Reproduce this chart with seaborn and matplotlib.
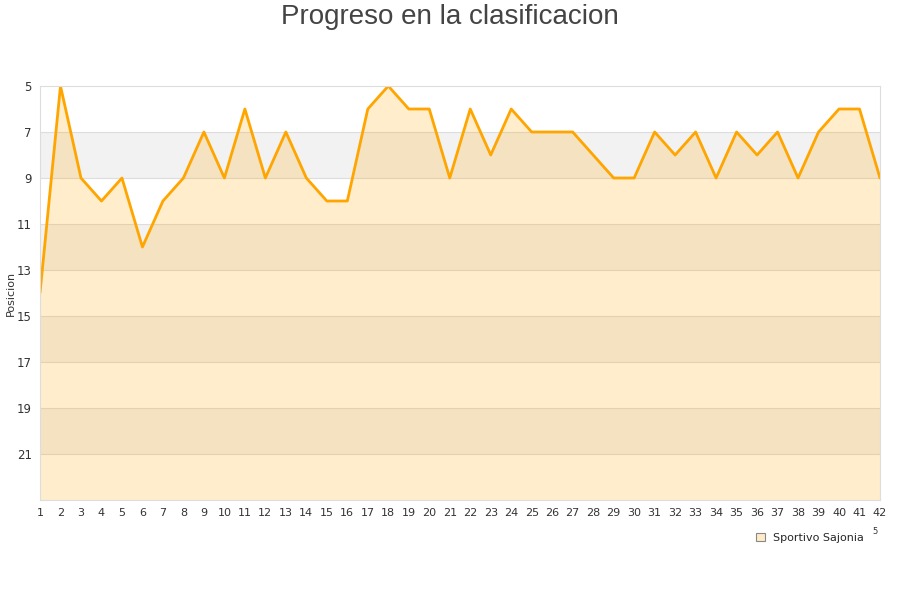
import matplotlib
matplotlib.use("Agg")
import matplotlib.pyplot as plt
from matplotlib.patches import Patch
import seaborn as sns
import pandas as pd

jornadas = list(range(1, 43))
posiciones = [14, 5, 9, 10, 9, 12, 10, 9, 7, 9, 6, 9, 7, 9, 10, 10, 6, 5, 6, 6,
              9, 6, 8, 6, 7, 7, 7, 8, 9, 9, 7, 8, 7, 9, 7, 8, 7, 9, 7, 6, 6, 9]
equipo = "Sportivo Sajonia"
y_ticks = list(range(5, 22, 2))

df = pd.DataFrame({"Jornada": jornadas, "Posicion": posiciones})

sns.set_theme(style="white")
plt.rcParams['font.family'] = ['DejaVu Sans']

fig = plt.figure(figsize=(9, 6), dpi=100)
ax = fig.add_axes([40/900, 1-500/600, 840/900, 414/600])

ymin, ymax = 5, 23
# alternating bands
for i, y0 in enumerate(range(ymin, ymax, 2)):
    if i % 2 == 1:
        ax.axhspan(y0, y0 + 2, color="#F2F2F2", zorder=0, lw=0)
for y in y_ticks[1:]:
    ax.axhline(y, color="#dddddd", lw=0.8, zorder=0.5)

ax.fill_between(df["Jornada"], df["Posicion"], ymax, color="#FFA500", alpha=0.2, lw=0, zorder=1)
sns.lineplot(data=df, x="Jornada", y="Posicion", ax=ax, color="#FFA500", lw=2.0, zorder=2)

ax.set_xlim(1, 42)
ax.set_ylim(ymax, ymin)
ax.set_xticks(jornadas)
ax.set_xticklabels([str(j) for j in jornadas], fontsize=8, color="#333333")
ax.set_yticks(y_ticks)
ax.set_yticklabels([str(y) for y in y_ticks], fontsize=8.5, color="#333333")
ax.tick_params(axis="both", length=0, pad=6)
ax.set_xlabel("")
ax.set_ylabel("")
fig.text(11/900, 1-293/600, "Posicion", rotation=90, fontsize=8, color="#333333",
         ha="center", va="center")
for s in ax.spines.values():
    s.set_color("#dddddd")
    s.set_linewidth(0.8)

fig.text(0.5, 1-17.5/600, "Progreso en la clasificacion", ha="center", va="center",
         fontsize=20, color="#444444", family=["Liberation Sans", "DejaVu Sans"])

handle = Patch(facecolor="#FFEBC8", edgecolor="#888888", linewidth=0.8)
fig.legend([handle], [equipo], loc="center", bbox_to_anchor=(810/900, 1-538/600),
           frameon=False, fontsize=8, handlelength=0.8, handleheight=0.8, handletextpad=0.8)
fig.text(875/900, 1-532/600, "5", fontsize=6, color="#333333", ha="center", va="center")

fig.savefig("out.png", dpi=100)
